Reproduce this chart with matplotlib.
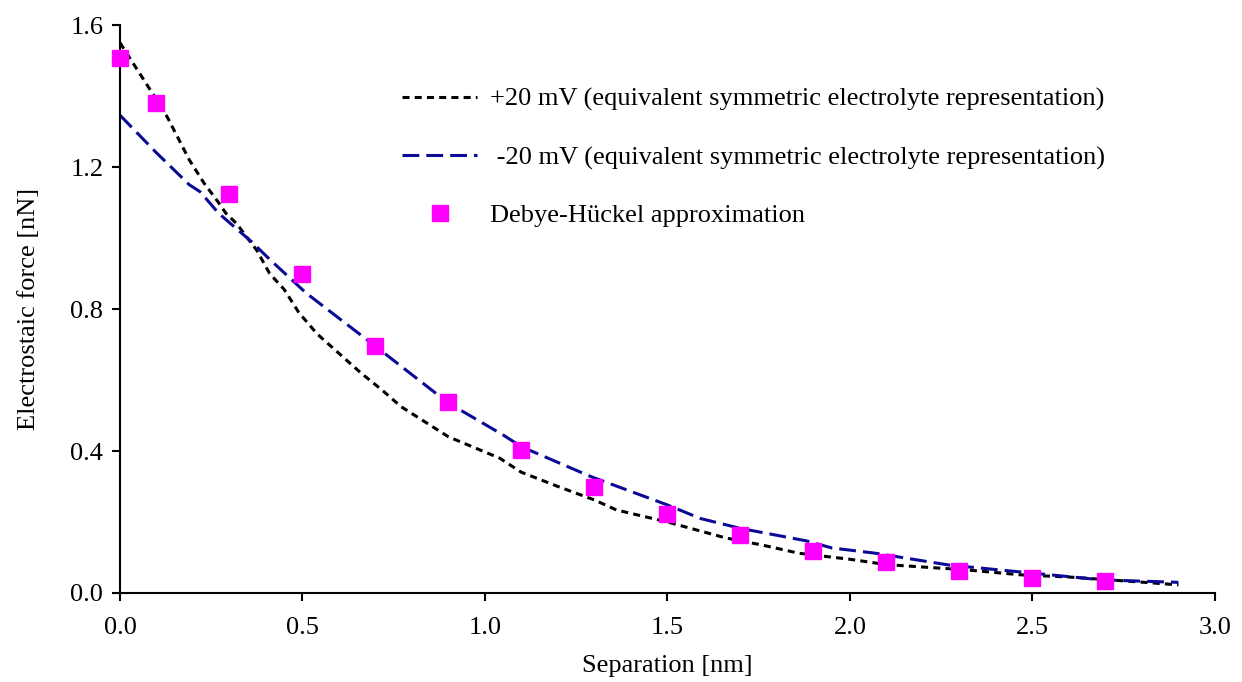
#!/usr/bin/env python3
import matplotlib
matplotlib.use("Agg")
import matplotlib.pyplot as plt

plt.rcParams['font.family'] = ['Liberation Serif', 'DejaVu Serif']

# +20 mV curve (equivalent symmetric electrolyte)
pos_x = [0.0, 0.05, 0.1, 0.13, 0.19, 0.23, 0.27, 0.29, 0.32, 0.375, 0.41, 0.45,
         0.49, 0.54, 0.6, 0.66, 0.72, 0.77, 0.9, 1.04, 1.1, 1.2, 1.3, 1.36, 1.5,
         1.66, 1.76, 1.86, 2.0, 2.1, 2.32, 2.47, 2.6, 2.78, 2.9]
pos_y = [1.55, 1.47, 1.39, 1.34, 1.22, 1.155, 1.10, 1.07, 1.04, 0.965, 0.90, 0.855,
         0.79, 0.73, 0.675, 0.62, 0.57, 0.525, 0.44, 0.38, 0.34, 0.30, 0.262, 0.234, 0.20,
         0.155, 0.135, 0.112, 0.095, 0.08, 0.065, 0.051, 0.045, 0.032, 0.023]

# -20 mV curve
neg_x = [0.0, 0.1, 0.13, 0.19, 0.22, 0.27, 0.36, 0.41, 0.51, 0.7, 0.9, 1.05, 1.1,
         1.29, 1.5, 1.59, 1.7, 1.88, 1.95, 2.07, 2.27, 2.46, 2.69, 2.9]
neg_y = [1.346, 1.24, 1.21, 1.15, 1.13, 1.07, 0.99, 0.94, 0.845, 0.695, 0.535, 0.445, 0.412,
         0.328, 0.248, 0.21, 0.182, 0.147, 0.127, 0.112, 0.079, 0.06, 0.037, 0.03]

# Debye-Hueckel points
dh_x = [0.0, 0.1, 0.3, 0.5, 0.7, 0.9, 1.1, 1.3, 1.5, 1.7, 1.9, 2.1, 2.3, 2.5, 2.7]
dh_y = [1.507, 1.38, 1.124, 0.899, 0.696, 0.538, 0.403, 0.299, 0.223, 0.163,
        0.118, 0.087, 0.062, 0.042, 0.034]

labels = ["+20 mV (equivalent symmetric electrolyte representation)",
          " -20 mV (equivalent symmetric electrolyte representation)",
          "Debye-Hückel approximation"]

fs = 19

fig = plt.figure(figsize=(12.42, 6.82), dpi=100)
ax = fig.add_axes([0.0966, 0.1305, 0.8816, 0.8328])

ax.plot(pos_x, pos_y, color='black', lw=2.2, dashes=(2.3, 1.7), label=labels[0])
ax.plot(neg_x, neg_y, color='#0a0a96', lw=2.2, dashes=(5.5, 2.3), label=labels[1])
ax.plot(dh_x, dh_y, 's', color='#ff00ff', markersize=12, ls='none', label=labels[2],
        zorder=3, clip_on=False)

ax.set_xlim(0, 3.0)
ax.set_ylim(0, 1.6)
ax.set_xticks([0.0, 0.5, 1.0, 1.5, 2.0, 2.5, 3.0])
ax.set_yticks([0.0, 0.4, 0.8, 1.2, 1.6])
ax.xaxis.set_major_formatter(matplotlib.ticker.FormatStrFormatter('%.1f'))
ax.yaxis.set_major_formatter(matplotlib.ticker.FormatStrFormatter('%.1f'))

for s in ['top', 'right']:
    ax.spines[s].set_visible(False)
for s in ['left', 'bottom']:
    ax.spines[s].set_linewidth(1.5)
ax.tick_params(direction='out', length=6, width=1.5, labelsize=fs)
ax.tick_params(axis='x', pad=11)
ax.tick_params(axis='y', pad=6)

ax.set_xlabel("Separation [nm]", fontsize=fs, labelpad=12)
ax.set_ylabel("Electrostaic force [nN]", fontsize=fs, labelpad=22)

ax.legend(loc='upper left', bbox_to_anchor=(0.2575, 0.89), frameon=False,
          fontsize=fs, handlelength=2.85, handletextpad=0.5, labelspacing=1.3,
          borderpad=0, borderaxespad=0, numpoints=1)

fig.savefig("out.png", dpi=100)
